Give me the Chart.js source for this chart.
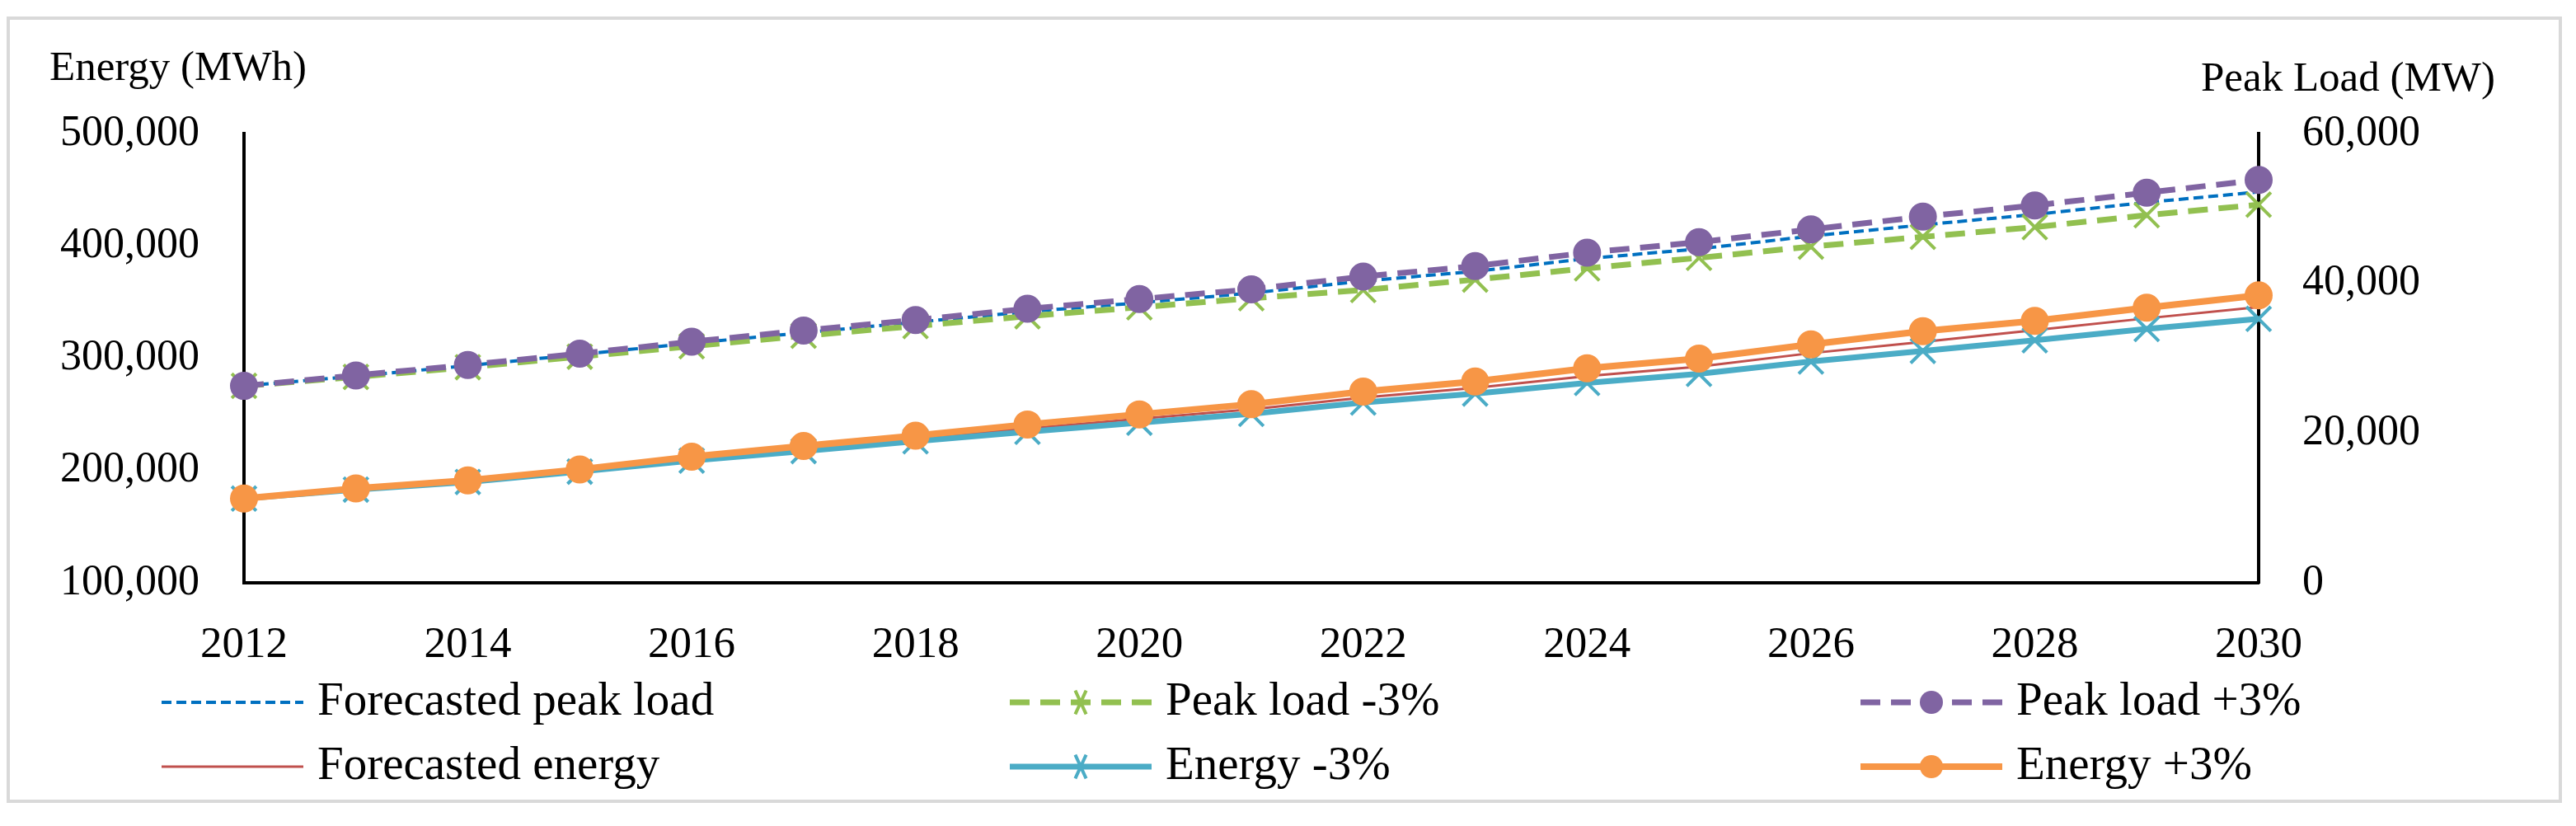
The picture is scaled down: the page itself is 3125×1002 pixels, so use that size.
<!DOCTYPE html>
<html>
<head>
<meta charset="utf-8">
<script src="https://cdn.jsdelivr.net/npm/chart.js@4.4.1/dist/chart.umd.min.js"></script>
<style>
  html, body { margin: 0; padding: 0; background: #fff; }
  canvas { display: block; }
</style>
</head>
<body>
<canvas id="chart" width="3125" height="1002"></canvas>
<script>
// Years on the x axis
const years = ['2012', '2013', '2014', '2015', '2016', '2017', '2018', '2019', '2020', '2021',
  '2022', '2023', '2024', '2025', '2026', '2027', '2028', '2029', '2030'];

// Peak load (MW) - right axis
const peakForecast = [26300, 27600, 29000, 30500, 32000, 33400, 34800, 36200, 37400, 38700,
  40300, 41600, 43300, 44600, 46300, 47800, 49200, 50800, 52200];
const peakLow = [26300, 27500, 28800, 30200, 31600, 33000, 34300, 35600, 36800, 38000,
  39100, 40500, 42000, 43400, 44900, 46200, 47500, 49100, 50500];
const peakHigh = [26300, 27700, 29100, 30600, 32200, 33700, 35100, 36600, 37900, 39200,
  40900, 42300, 44100, 45500, 47200, 48900, 50400, 52100, 53800];

// Energy (MWh) - left axis
const energyForecast = [175000, 183500, 190500, 200000, 210500, 219500, 228500, 237500, 246000, 254500,
  265000, 273500, 284000, 292500, 304500, 314500, 325000, 335500, 345500];
const energyLow = [175000, 183000, 189800, 199000, 208800, 217300, 226000, 234500, 242500, 250500,
  260500, 268500, 278000, 286000, 297000, 306500, 316000, 326000, 335000];
const energyHigh = [175000, 184000, 191200, 201000, 212300, 221800, 231000, 241000, 250000, 259000,
  270300, 279300, 291000, 299600, 312300, 324000, 333200, 345000, 356000];

const FONT = "'Liberation Serif', 'Times New Roman', serif";
const BLUE = '#0070c0';
const GREEN = '#92c050';
const PURPLE = '#8064a2';
const RED = '#c0504d';
const CYAN = '#4bacc6';
const ORANGE = '#f79646';

const fmt = v => Number(v).toLocaleString('en-US');

// frame, axis titles and the three-column legend
const decorPlugin = {
  id: 'decor',
  beforeDraw(chart) {
    const ctx = chart.ctx;
    ctx.save();
    ctx.fillStyle = '#fff';
    ctx.fillRect(0, 0, chart.width, chart.height);
    ctx.strokeStyle = '#d9d9d9';
    ctx.lineWidth = 4;
    ctx.strokeRect(10, 22, 3096, 950);
    ctx.restore();
  },
  afterDraw(chart) {
    const ctx = chart.ctx;
    ctx.save();
    ctx.fillStyle = '#000';
    ctx.textBaseline = 'middle';
    ctx.font = '51px ' + FONT;
    ctx.textAlign = 'left';
    ctx.fillText('Energy (MWh)', 60, 84);
    ctx.fillText('Peak Load (MW)', 2670, 97);

    const cols = [196, 1225, 2257];
    const rows = [852, 930];
    const lineLen = 172;
    chart.data.datasets.forEach((ds, i) => {
      const x0 = cols[i % 3];
      const y = rows[Math.floor(i / 3)];
      ctx.save();
      ctx.strokeStyle = ds.borderColor;
      ctx.lineWidth = ds.borderWidth;
      ctx.setLineDash(ds.borderDash || []);
      ctx.beginPath();
      ctx.moveTo(x0, y);
      ctx.lineTo(x0 + lineLen, y);
      ctx.stroke();
      ctx.setLineDash([]);
      const cx = x0 + lineLen / 2;
      if (ds.pointStyle === 'circle' && ds.pointRadius > 0) {
        ctx.fillStyle = ds.pointBackgroundColor;
        ctx.beginPath();
        ctx.arc(cx, y, 14, 0, Math.PI * 2);
        ctx.fill();
      } else if (ds.pointStyle === 'crossRot' && ds.pointRadius > 0) {
        const r = 11;
        ctx.strokeStyle = ds.pointBorderColor;
        ctx.lineWidth = ds.pointBorderWidth;
        ctx.beginPath();
        ctx.moveTo(cx - r * 0.6, y - r * 1.3);
        ctx.lineTo(cx + r * 0.6, y + r * 1.3);
        ctx.moveTo(cx + r * 0.6, y - r * 1.3);
        ctx.lineTo(cx - r * 0.6, y + r * 1.3);
        ctx.stroke();
      }
      ctx.restore();
      ctx.fillStyle = '#000';
      ctx.font = '57px ' + FONT;
      ctx.fillText(ds.label, x0 + lineLen + 17, y);
    });
    ctx.restore();
  }
};

const datasets = [
  {
    label: 'Forecasted peak load', data: peakForecast, yAxisID: 'yR', order: 6,
    borderColor: BLUE, borderWidth: 4, borderDash: [12, 6], pointRadius: 0, pointStyle: false
  },
  {
    label: 'Peak load -3%', data: peakLow, yAxisID: 'yR', order: 5,
    borderColor: GREEN, borderWidth: 7, borderDash: [24, 13],
    pointStyle: 'crossRot', pointRadius: 21, pointBorderWidth: 4,
    pointBorderColor: GREEN, pointBackgroundColor: GREEN
  },
  {
    label: 'Peak load +3%', data: peakHigh, yAxisID: 'yR', order: 4,
    borderColor: PURPLE, borderWidth: 7, borderDash: [24, 13],
    pointStyle: 'circle', pointRadius: 16, pointBorderWidth: 2,
    pointBorderColor: PURPLE, pointBackgroundColor: PURPLE
  },
  {
    label: 'Forecasted energy', data: energyForecast, yAxisID: 'yL', order: 3,
    borderColor: RED, borderWidth: 3, pointRadius: 0, pointStyle: false
  },
  {
    label: 'Energy -3%', data: energyLow, yAxisID: 'yL', order: 2,
    borderColor: CYAN, borderWidth: 7,
    pointStyle: 'crossRot', pointRadius: 21, pointBorderWidth: 4,
    pointBorderColor: CYAN, pointBackgroundColor: CYAN
  },
  {
    label: 'Energy +3%', data: energyHigh, yAxisID: 'yL', order: 1,
    borderColor: ORANGE, borderWidth: 8,
    pointStyle: 'circle', pointRadius: 16, pointBorderWidth: 2,
    pointBorderColor: ORANGE, pointBackgroundColor: ORANGE
  }
];

datasets.forEach(ds => { ds.fill = false; ds.tension = 0; ds.clip = false; });

new Chart(document.getElementById('chart'), {
  type: 'line',
  data: { labels: years, datasets },
  options: {
    responsive: false,
    devicePixelRatio: 1,
    animation: false,
    layout: { padding: { top: 162, left: 0, right: 0, bottom: 0 } },
    plugins: {
      legend: { display: false },
      tooltip: { enabled: false }
    },
    scales: {
      x: {
        offset: false,
        grid: { display: false, drawTicks: false },
        border: { display: true, color: '#000', width: 4 },
        ticks: {
          autoSkip: false,
          maxRotation: 0,
          padding: 44,
          color: '#000',
          font: { family: FONT, size: 53 },
          callback: function (value, index) {
            const lbl = this.getLabelForValue(value);
            return Number(lbl) % 2 === 0 ? lbl : '';
          }
        },
        afterFit(scale) { scale.height = 295; }
      },
      yL: {
        position: 'left',
        min: 100000, max: 500000,
        grid: { display: false, drawTicks: false },
        border: { display: true, color: '#000', width: 4 },
        ticks: {
          stepSize: 100000,
          padding: 54,
          color: '#000',
          font: { family: FONT, size: 52 },
          callback: v => fmt(v)
        },
        afterFit(scale) { scale.width = 296; }
      },
      yR: {
        position: 'right',
        min: 0, max: 60000,
        grid: { display: false, drawTicks: false },
        border: { display: true, color: '#000', width: 4 },
        ticks: {
          stepSize: 20000,
          padding: 53,
          color: '#000',
          font: { family: FONT, size: 52 },
          callback: v => fmt(v)
        },
        afterFit(scale) { scale.width = 385; }
      }
    }
  },
  plugins: [decorPlugin]
});
</script>
</body>
</html>
